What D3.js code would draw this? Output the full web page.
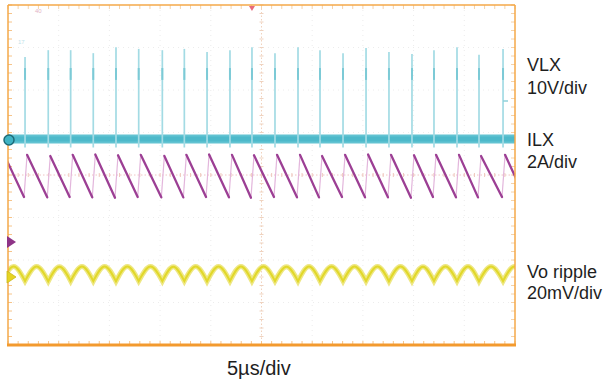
<!DOCTYPE html>
<html><head><meta charset="utf-8">
<script src="https://cdn.jsdelivr.net/npm/d3@7"></script>
<style>body{margin:0;background:#fff;} svg{display:block;}</style>
</head><body>
<svg id="c" width="606" height="386"></svg>
<script>
// ---- data (time in µs) ----
const xDivTicks = [0,5,10,15,20,25,30,35,40,45,50];          // µs, 5 µs/div
const yDivTicks = [-4,-3,-2,-1,0,1,2,3,4];                    // divisions
const spikeTimes = [1.68,3.97,6.18,8.41,10.65,12.89,15.22,17.39,19.63,21.89,24.06,26.33,28.60,30.77,33.04,35.31,37.57,39.84,42.01,44.28,46.45,48.82];
const vlxPeaks   = [19.3,20.9,20.9,20.2,21.6,21.2,20.9,21.2,20.5,20.9,21.6,20.2,21.6,20.9,20.2,21.4,20.5,20.0,20.9,21.6,19.8,21.2]; // V
const vlxShelf   = [13.9,16.7];   // V, darker part of each spike
const vlxFloor   = -2;            // V, spike foot
const ilxPeakTimes   = [-0.37,1.88,4.17,6.38,8.61,10.85,13.09,15.42,17.59,19.83,22.09,24.26,26.53,28.80,30.97,33.24,35.51,37.77,40.04,42.21,44.48,46.65,49.02];
const ilxPeaks       = [4.1,4.1,4.05,4.1,4.12,4.08,4.1,4.05,4.1,4.12,4.1,4.08,4.1,4.1,4.05,4.1,4.12,4.1,4.08,4.1,4.1,4.05,4.1]; // A
const ilxValleyTimes = [1.58,3.87,6.08,8.31,10.55,12.79,15.12,17.29,19.53,21.79,23.96,26.23,28.50,30.67,32.94,35.21,37.47,39.74,41.91,44.18,46.35,48.72,50.97];
const ilxValleys     = [2.12,2.1,2.12,2.1,2.08,2.12,2.1,2.1,2.12,2.1,2.08,2.12,2.1,2.1,2.12,2.1,2.1,2.08,2.12,2.1,2.1,2.12,2.1]; // A
const voCuspTimes = [-0.57,1.68,3.97,6.18,8.41,10.65,12.89,15.22,17.39,19.63,21.89,24.06,26.33,28.60,30.77,33.04,35.31,37.57,39.84,42.01,44.28,46.45,48.82,51.07];
const voCusps     = [-1.9,-1.9,-2.0,-1.9,-1.9,-2.0,-1.9,-1.9,-1.9,-2.0,-1.9,-1.9,-1.9,-2.0,-1.9,-1.9,-1.9,-2.0,-1.9,-1.9,-1.9,-2.0,-1.9,-1.9]; // mV
const voArchPeaks = [4.9,4.9,4.8,4.9,5.0,4.9,4.9,4.8,4.9,4.9,5.0,4.9,4.8,4.9,4.9,5.0,4.9,4.9,4.8,4.9,5.0,4.9,4.9]; // mV
const channels = [
  {name:"VLX", scale:"10V/div", offset:0.847, perDiv:10},
  {name:"ILX", scale:"2A/div", offset:-1.576, perDiv:2},
  {name:"Vo ripple", scale:"20mV/div", offset:-2.4, perDiv:20}
];
const timeLabel = "5µs/div";

// ---- layout ----
const L=8, R=515, T=5, B=345;
const svg = d3.select("#c");
const x = d3.scaleLinear().domain([0,50]).range([L,R]);
const yDiv = d3.scaleLinear().domain([-4,4]).range([B,T]);
const chY = ch => v => yDiv(ch.offset + v/ch.perDiv);
const yV = chY(channels[0]), yI = chY(channels[1]), yO = chY(channels[2]);

svg.append("defs").append("clipPath").attr("id","plot")
  .append("rect").attr("x",L).attr("y",T).attr("width",R-L).attr("height",B-T);

// ---- grid ----
const g = svg.append("g");
g.selectAll("line.gx").data(xDivTicks.slice(1,-1)).join("line")
  .attr("x1",d=>x(d)).attr("x2",d=>x(d)).attr("y1",T).attr("y2",B)
  .attr("stroke", d=>d===25?"#f1d2bd":"#ececec").attr("stroke-width",1)
  .attr("stroke-dasharray", d=>d===25?"1.5,2":"1,4");
g.selectAll("line.gy").data(yDivTicks.slice(1,-1)).join("line")
  .attr("y1",d=>yDiv(d)).attr("y2",d=>yDiv(d)).attr("x1",L).attr("x2",R)
  .attr("stroke", d=>d===0?"#f0c4c4":"#ececec").attr("stroke-width",1)
  .attr("stroke-dasharray", d=>d===0?"1.5,2":"1,4");
// minor ticks
const minorX = d3.range(0,50.01,1);
const minorY = d3.range(-4,4.01,0.2);
g.selectAll("line.mx").data(minorX).join("line")
  .attr("x1",d=>x(d)).attr("x2",d=>x(d)).attr("y1",yDiv(0)-2).attr("y2",yDiv(0)+2)
  .attr("stroke","#efc9bd").attr("stroke-width",1);
g.selectAll("line.my").data(minorY).join("line")
  .attr("y1",d=>yDiv(d)).attr("y2",d=>yDiv(d)).attr("x1",x(25)-2).attr("x2",x(25)+2)
  .attr("stroke","#efd3c0").attr("stroke-width",1);
// frame ticks
g.selectAll("line.fb").data(minorX).join("line")
  .attr("x1",d=>x(d)).attr("x2",d=>x(d)).attr("y1",B-4).attr("y2",B)
  .attr("stroke","#f6c48a").attr("stroke-width",1);
g.selectAll("line.ft").data(minorX).join("line")
  .attr("x1",d=>x(d)).attr("x2",d=>x(d)).attr("y1",T).attr("y2",T+4)
  .attr("stroke","#f6d2a8").attr("stroke-width",1);
g.selectAll("line.fl").data(minorY).join("line")
  .attr("y1",d=>yDiv(d)).attr("y2",d=>yDiv(d)).attr("x1",L).attr("x2",L+4)
  .attr("stroke","#f6c48a").attr("stroke-width",1);
g.selectAll("line.fr").data(minorY).join("line")
  .attr("y1",d=>yDiv(d)).attr("y2",d=>yDiv(d)).attr("x1",R-4).attr("x2",R)
  .attr("stroke","#f6d2a8").attr("stroke-width",1);

// ---- traces ----
const p = svg.append("g").attr("clip-path","url(#plot)");

// VLX band
p.append("line").attr("x1",x(0)).attr("x2",x(50)).attr("y1",yV(0)).attr("y2",yV(0))
  .attr("stroke","#62c3d2").attr("stroke-width",9);
p.append("line").attr("x1",x(0)).attr("x2",x(50)).attr("y1",yV(0)).attr("y2",yV(0))
  .attr("stroke","#4db9ca").attr("stroke-width",5);
// spikes
p.selectAll("line.sp").data(spikeTimes).join("line")
  .attr("x1",d=>x(d)).attr("x2",d=>x(d)).attr("y1",yV(vlxFloor)).attr("y2",(d,i)=>yV(vlxPeaks[i]))
  .attr("stroke","#a3dbe4").attr("stroke-width",1.7);
p.selectAll("line.sd").data(spikeTimes).join("line")
  .attr("x1",d=>x(d)).attr("x2",d=>x(d)).attr("y1",yV(vlxShelf[0])).attr("y2",yV(vlxShelf[1]))
  .attr("stroke","#7ccad6").attr("stroke-width",2);

// ILX sawtooth
const fallSegs = ilxPeakTimes.map((t,i)=>[[t,ilxPeaks[i]],[ilxValleyTimes[i],ilxValleys[i]]]);
const riseSegs = ilxValleyTimes.slice(0,-1).map((t,i)=>[[t,ilxValleys[i]],[ilxPeakTimes[i+1],ilxPeaks[i+1]]]);
const lineI = d3.line().x(d=>x(d[0])).y(d=>yI(d[1]));
p.selectAll("path.rise").data(riseSegs).join("path").attr("d",lineI)
  .attr("fill","none").attr("stroke","#e3b6dc").attr("stroke-width",1.2);
p.selectAll("path.fall").data(fallSegs).join("path").attr("d",lineI)
  .attr("fill","none").attr("stroke","#9c3f94").attr("stroke-width",2.3).attr("stroke-linecap","round");

// Vo ripple arches joined into one path (sharp cusps)
const arches = voArchPeaks.map((v,i)=>[
  [voCuspTimes[i],voCusps[i]],
  [(voCuspTimes[i]+voCuspTimes[i+1])/2, v],
  [voCuspTimes[i+1],voCusps[i+1]]
]);
const lineO = d3.line().x(d=>x(d[0])).y(d=>yO(d[1])).curve(d3.curveMonotoneX);
const voD = arches.map((a,i)=>{ const s = lineO(a); return i===0 ? s : "L" + s.slice(1); }).join("");
p.append("path").attr("d",voD).attr("fill","none").attr("stroke","#eee784")
  .attr("stroke-width",5).attr("stroke-linejoin","miter").attr("stroke-miterlimit",10);
p.append("path").attr("d",voD).attr("fill","none").attr("stroke","#e1d82a")
  .attr("stroke-width",2).attr("stroke-linejoin","miter").attr("stroke-miterlimit",10);

// ---- frame ----
svg.append("line").attr("x1",L).attr("x2",R).attr("y1",T).attr("y2",T).attr("stroke","#f5a848").attr("stroke-width",1.5);
svg.append("line").attr("x1",L).attr("x2",L).attr("y1",T).attr("y2",B).attr("stroke","#f5a848").attr("stroke-width",1.5);
svg.append("line").attr("x1",R).attr("x2",R).attr("y1",T).attr("y2",B).attr("stroke","#f5a848").attr("stroke-width",1.5);
svg.append("line").attr("x1",L-1).attr("x2",R+1).attr("y1",B).attr("y2",B).attr("stroke","#f39a2e").attr("stroke-width",3);

// ---- markers ----
svg.append("path").attr("d",`M${x(24.06)-3},${T+1}L${x(24.06)+3},${T+1}L${x(24.06)},${T+6}Z`).attr("fill","#e86a7c");
svg.append("circle").attr("cx",L+1).attr("cy",yV(0)+1).attr("r",5).attr("fill","#3fb3c4").attr("stroke","#1d6b78").attr("stroke-width",1.5);
svg.append("path").attr("d",`M${L-1},${yI(0)-6}L${L+8},${yI(0)}L${L-1},${yI(0)+6}Z`).attr("fill","#8e3487");
svg.append("path").attr("d",`M${L-1},${yO(0)-6}L${L+8},${yO(0)}L${L-1},${yO(0)+6}Z`).attr("fill","#e6d422").attr("stroke","#c9b81a").attr("stroke-width",0.8);
// faint on-screen artefacts
svg.append("text").attr("x",35).attr("y",13).text("40").attr("font-size",6).attr("fill","#e2b3c6").attr("font-family","Liberation Sans, Arial, sans-serif");
svg.append("text").attr("x",18).attr("y",44).text("17").attr("font-size",6).attr("fill","#bfe3ea").attr("font-family","Liberation Sans, Arial, sans-serif");
svg.append("line").attr("x1",503).attr("x2",508).attr("y1",101).attr("y2",101).attr("stroke","#8fd0da").attr("stroke-width",1.5);

// ---- labels ----
const font = "Liberation Sans, Arial, Helvetica, sans-serif";
const labelPos = [[71,94],[146,168],[278,299]];
channels.forEach((c,i)=>{
  svg.append("text").attr("x",527).attr("y",labelPos[i][0]).text(c.name)
    .attr("font-family",font).attr("font-size",18).attr("fill","#1e1e1e");
  svg.append("text").attr("x",527).attr("y",labelPos[i][1]).text(c.scale)
    .attr("font-family",font).attr("font-size",18).attr("fill","#1e1e1e");
});
svg.append("text").attr("x",227).attr("y",375).text(timeLabel)
  .attr("font-family",font).attr("font-size",20).attr("fill","#1e1e1e");
</script>
</body></html>
